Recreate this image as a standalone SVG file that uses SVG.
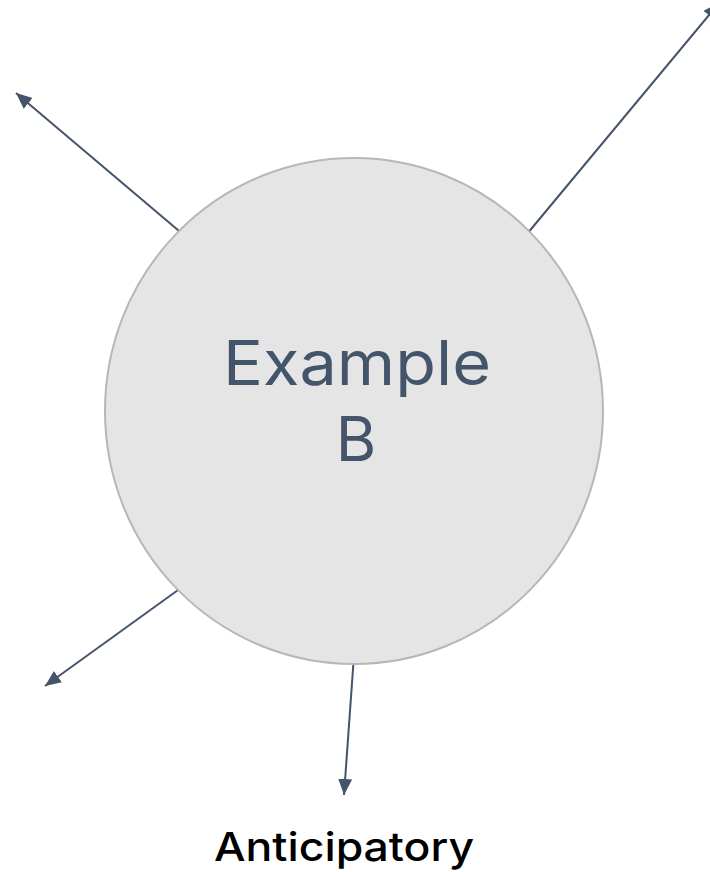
<svg xmlns="http://www.w3.org/2000/svg" width="710" height="872" viewBox="0 0 710 872">
  <style>
    .conn { stroke: #44546a; stroke-width: 2; fill: none; marker-end: url(#arrow); }
    .node-shape { fill: #e5e5e5; stroke: #b7b7b7; stroke-width: 2; }
    .node-label { font-family: "Inter", "Open Sans", "Liberation Sans", sans-serif; font-size: 62px; fill: #44546a; text-anchor: middle; }
    .caption { font-family: "Inter", "Open Sans", "Liberation Sans", sans-serif; font-size: 40px; font-weight: 500; fill: #000000; text-anchor: middle; }
  </style>
  <defs>
    <marker id="arrow" markerUnits="userSpaceOnUse" markerWidth="18" markerHeight="16" refX="16" refY="7" orient="auto">
      <path d="M0,0 L16,7 L0,14 z" fill="#44546a"/>
    </marker>
  </defs>
  <rect width="710" height="872" fill="#ffffff"/>
  <g id="connectors">
    <line class="conn" x1="185" y1="236" x2="16" y2="93"/>
    <line class="conn" x1="522" y1="240" x2="719" y2="3"/>
    <line class="conn" x1="185" y1="585" x2="45" y2="686"/>
    <line class="conn" x1="354" y1="655" x2="344" y2="795"/>
  </g>
  <g id="node-example-b">
    <ellipse class="node-shape" cx="354" cy="411" rx="249" ry="253"/>
    <text class="node-label" x="357" y="385" textLength="268" lengthAdjust="spacingAndGlyphs">Example</text>
    <text class="node-label" x="356" y="461">B</text>
  </g>
  <g id="label-anticipatory">
    <text class="caption" x="344" y="861" textLength="260" lengthAdjust="spacingAndGlyphs">Anticipatory</text>
  </g>
</svg>
